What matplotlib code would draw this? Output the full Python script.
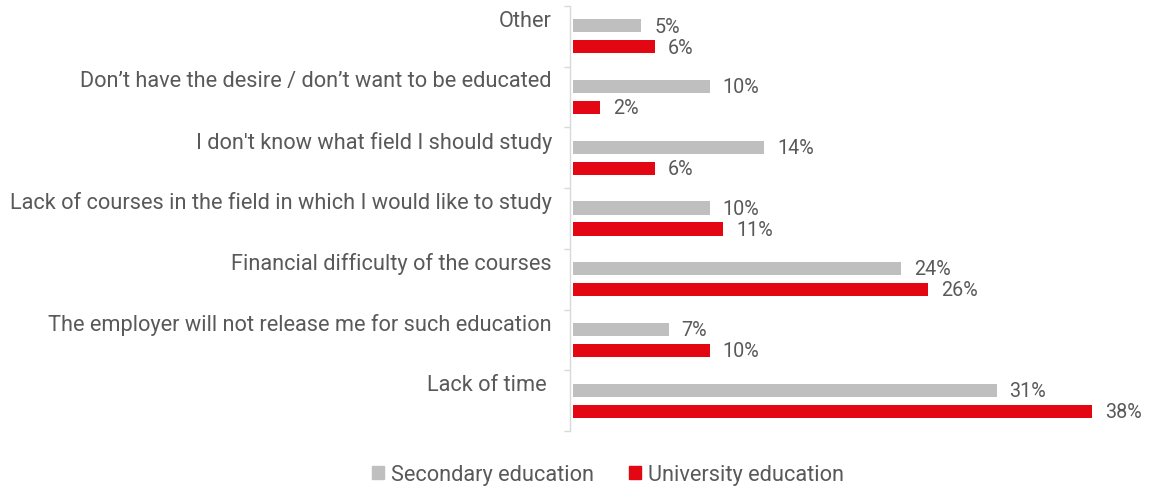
import matplotlib
matplotlib.use("Agg")
import matplotlib.pyplot as plt
from matplotlib.patches import Patch
import numpy as np

plt.rcParams['font.family'] = ['Roboto', 'DejaVu Sans']

categories = [
    "Other",
    "Don\u2019t have the desire / don\u2019t want to be educated",
    "I don't know what field I should study",
    "Lack of courses in the field in which I would like to study",
    "Financial difficulty of the courses",
    "The employer will not release me for such education",
    "Lack of time ",
]
secondary = [5, 10, 14, 10, 24, 7, 31]
university = [6, 2, 6, 11, 26, 10, 38]
series_names = ["Secondary education", "University education"]

GRAY = "#BFBFBF"
RED = "#E30613"
TEXT = "#595959"

fig = plt.figure(figsize=(11.51, 4.91), dpi=100)
ax = fig.add_axes([570 / 1151, 1 - 431 / 491, 570 / 1151, 425 / 491])

y = np.arange(len(categories))
h = 0.215
off = 0.173
ax.barh(y - off, secondary, height=h, color=GRAY, label=series_names[0])
ax.barh(y + off, university, height=h, color=RED, label=series_names[1])

for yi, v in zip(y - off, secondary):
    ax.text(v + 0.95, yi + 0.02, f"{v}%", va="center", ha="left", fontsize=14.2, color=TEXT)
for yi, v in zip(y + off, university):
    ax.text(v + 0.95, yi + 0.02, f"{v}%", va="center", ha="left", fontsize=14.2, color=TEXT)

ax.set_xlim(-0.22, 41.5)
ax.set_ylim(len(categories) - 0.5, -0.5)

# category labels sit above the centre of each group
trans = ax.get_yaxis_transform()
for yi, lab in zip(y, categories):
    ax.text(-0.032, yi - 0.25, lab, transform=trans, ha="right", va="center",
            fontsize=15.7, color=TEXT)

ax.set_yticks([])
ax.set_yticks(np.arange(len(categories) + 1) - 0.5, minor=True)
ax.tick_params(axis="y", which="minor", length=4, width=1, color="#D9D9D9", labelleft=False)
ax.set_xticks([])
for s in ["top", "right", "bottom"]:
    ax.spines[s].set_visible(False)
ax.spines["left"].set_color("#D9D9D9")
ax.spines["left"].set_linewidth(1)

handles = [Patch(color=GRAY), Patch(color=RED)]
fig.legend(handles, series_names, loc="center", bbox_to_anchor=(608 / 1151, 1 - 475 / 491),
           ncol=2, frameon=False, fontsize=15.7, handlelength=0.55, handleheight=0.55,
           handletextpad=0.3, columnspacing=1.65, labelcolor=TEXT)

fig.savefig("out.png", dpi=100)
